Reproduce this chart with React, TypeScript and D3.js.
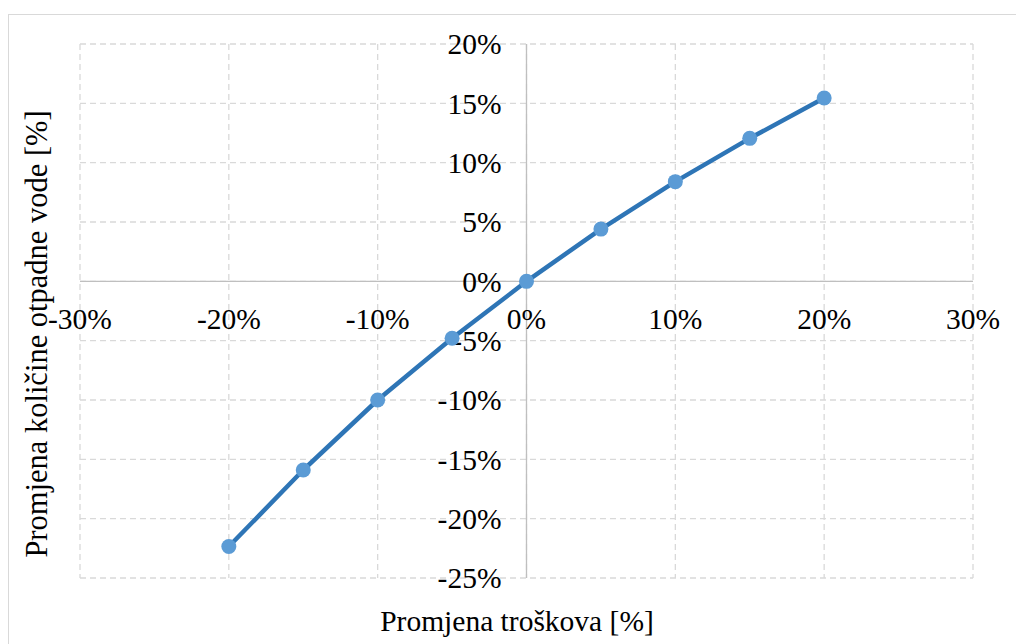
import React from "react";
import * as d3 from "d3";

const xValues = [-20, -15, -10, -5, 0, 5, 10, 15, 20];
const yValues = [-22.35, -15.9, -10.0, -4.8, 0, 4.4, 8.4, 12.05, 15.45];
const xTicks = [-30, -20, -10, 0, 10, 20, 30];
const yTicks = [20, 15, 10, 5, 0, -5, -10, -15, -20, -25];
const xTitle = "Promjena troškova [%]";
const yTitle = "Promjena količine otpadne vode [%]";

export default function App() {
  const W = 1016, H = 644;
  const left = 80, right = 973, top = 44, bottom = 578;
  const x = d3.scaleLinear().domain([-30, 30]).range([left, right]);
  const y = d3.scaleLinear().domain([-25, 20]).range([bottom, top]);
  const line = d3.line<number>().x((_, i) => x(xValues[i])).y((d) => y(d));
  const ts = { fontFamily: "Liberation Serif, DejaVu Serif, serif", fontSize: "29.5px" };
  const tt = { fontFamily: "Liberation Serif, DejaVu Serif, serif", fontSize: "30.5px" };
  return (
    <svg width={W} height={H} style={{ position: "absolute", left: 0, top: 0 }}>
      <rect x={0} y={0} width={W} height={H} fill="#fff" />
      <rect x={8.5} y={14.5} width={W + 10} height={H} fill="none" stroke="#d9d9d9" strokeWidth={1} />
      {xTicks.map((t) => (
        <line key={"gx" + t} x1={x(t)} x2={x(t)} y1={top} y2={bottom} stroke="#d9d9d9" strokeWidth={1.3} strokeDasharray="6,4" />
      ))}
      {yTicks.map((t) => (
        <line key={"gy" + t} x1={left} x2={right} y1={y(t)} y2={y(t)} stroke="#d9d9d9" strokeWidth={1.3} strokeDasharray="6,4" />
      ))}
      <line x1={x(0)} x2={x(0)} y1={top} y2={bottom} stroke="#bfbfbf" strokeWidth={1.3} />
      <line x1={left} x2={right} y1={y(0)} y2={y(0)} stroke="#bfbfbf" strokeWidth={1.3} />
      {yTicks.map((t) => (
        <text key={"ty" + t} x={x(0) - 25} y={y(t)} dy="0.35em" textAnchor="end" style={ts} fill="#000">
          {t + "%"}
        </text>
      ))}
      {xTicks.map((t) => (
        <text key={"tx" + t} x={x(t)} y={y(0) + 37} dy="0.35em" textAnchor="middle" style={ts} fill="#000">
          {t + "%"}
        </text>
      ))}
      <path d={line(yValues) || ""} fill="none" stroke="#2e75b6" strokeWidth={4.5} strokeLinejoin="round" />
      {yValues.map((v, i) => (
        <circle key={"p" + i} cx={x(xValues[i])} cy={y(v)} r={7.5} fill="#5b9bd5" />
      ))}
      <text x={517} y={621} dy="0.35em" textAnchor="middle" style={ts} fill="#000">{xTitle}</text>
      <text transform={`translate(36,334) rotate(-90)`} dy="0.35em" textAnchor="middle" style={tt} fill="#000">{yTitle}</text>
    </svg>
  );
}
